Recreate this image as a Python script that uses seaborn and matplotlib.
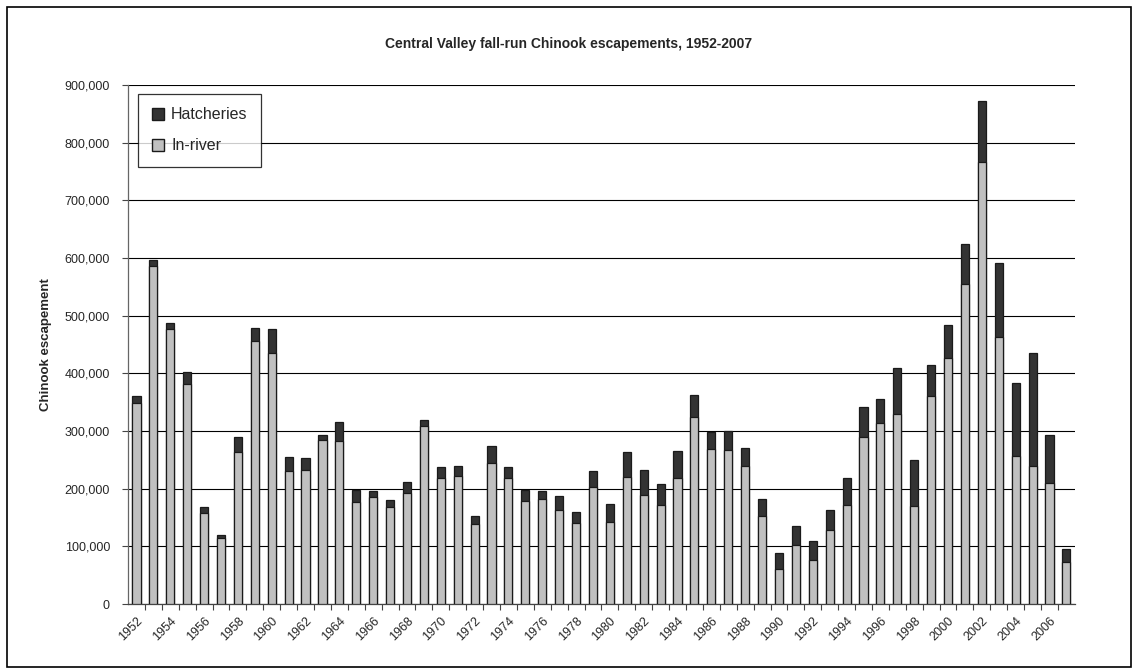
import matplotlib
matplotlib.use("Agg")
import matplotlib.pyplot as plt
import matplotlib.ticker as mticker
import matplotlib.transforms as mtransforms
from matplotlib.patches import Patch, Rectangle
import numpy as np
import pandas as pd
import seaborn as sns

years = list(range(1952, 2008))

# in-river escapement (lower, light grey part of each bar)
in_river = [348000, 586000, 477000, 382000, 158000, 114000, 263000, 456000,
            436000, 231000, 233000, 285000, 283000, 177000, 185000, 169000,
            193000, 309000, 218000, 222000, 139000, 244000, 218000, 179000,
            182000, 164000, 141000, 203000, 143000, 220000, 190000, 172000,
            218000, 324000, 269000, 267000, 239000, 152000, 61000, 103000,
            76000, 129000, 172000, 290000, 314000, 329000, 170000, 360000,
            426000, 555000, 766000, 463000, 256000, 240000, 210000, 73000]

# total escapement (top of each bar); hatcheries = total - in-river
total = [360000, 597000, 488000, 402000, 169000, 119000, 289000, 479000,
         477000, 255000, 253000, 294000, 315000, 198000, 196000, 181000,
         211000, 320000, 237000, 240000, 153000, 274000, 237000, 198000,
         196000, 187000, 159000, 231000, 174000, 263000, 232000, 208000,
         265000, 362000, 299000, 301000, 270000, 183000, 89000, 135000,
         109000, 164000, 219000, 342000, 356000, 409000, 250000, 414000,
         484000, 625000, 872000, 591000, 384000, 435000, 294000, 96000]

df = pd.DataFrame({"year": [str(y) for y in years],
                   "in_river": in_river, "total": total})

sns.set_style("white")
plt.rcParams["font.family"] = ["Liberation Sans", "DejaVu Sans"]

fig = plt.figure(figsize=(11.38, 6.72), dpi=100)
ax = fig.add_axes([0.1125, 0.101, 0.832, 0.7725])

hatch_col = "#333333"
river_col = "#c0c0c0"

# full bar in hatchery colour, in-river drawn over the lower part
sns.barplot(data=df, x="year", y="total", color=hatch_col, saturation=1,
            width=0.48, edgecolor="#1a1a1a", linewidth=0.9, ax=ax, zorder=3)
sns.barplot(data=df, x="year", y="in_river", color=river_col, saturation=1,
            width=0.48, edgecolor="#1a1a1a", linewidth=0.9, ax=ax, zorder=4)

ax.set_xlim(-0.5, len(years) - 0.5)
ax.set_ylim(0, 900000)
ax.yaxis.set_major_locator(mticker.MultipleLocator(100000))
ax.yaxis.set_major_formatter(mticker.FuncFormatter(lambda v, p: f"{int(v):,}"))
ax.grid(axis="y", color="black", linewidth=0.8, zorder=0)
ax.set_axisbelow(True)

# x labels every other year, tick marks between categories
pos = np.arange(len(years))
ax.set_xticks(pos[::2])
ax.set_xticklabels([str(y) for y in years[::2]], rotation=45, ha="right",
                   rotation_mode="anchor", fontsize=9)
shift = mtransforms.ScaledTranslation(-4 / 100, 0, fig.dpi_scale_trans)
for lab in ax.get_xticklabels():
    lab.set_transform(lab.get_transform() + shift)
ax.set_xticks(pos[:-1] + 0.5, minor=True)
ax.tick_params(axis="x", which="major", length=0, pad=8)
ax.tick_params(axis="x", which="minor", length=4, width=0.8, color="#444444",
               direction="out", bottom=True)
ax.tick_params(axis="y", length=4, width=0.8, color="#444444", labelsize=9,
               direction="out", left=True, pad=9)

for s in ["top", "right"]:
    ax.spines[s].set_visible(False)
ax.spines["left"].set_color("#666666")
ax.spines["bottom"].set_color("#444444")
ax.spines["left"].set_linewidth(0.9)
ax.spines["bottom"].set_linewidth(0.9)

ax.set_xlabel("")
ax.set_ylabel("Chinook escapement", fontsize=9.5, fontweight="bold", labelpad=9)
fig.text(0.5, 0.935, "Central Valley fall-run Chinook escapements, 1952-2007",
         ha="center", va="center", fontsize=10, fontweight="bold")

handles = [Patch(facecolor=hatch_col, edgecolor="#1a1a1a", label="Hatcheries"),
           Patch(facecolor=river_col, edgecolor="#1a1a1a", label="In-river")]
leg = ax.legend(handles=handles, loc="upper left", bbox_to_anchor=(0.011, 0.983),
                fontsize=11.5, frameon=True, fancybox=False, handlelength=0.75,
                handleheight=0.75, handletextpad=0.45, labelspacing=1.0,
                borderpad=0.85, borderaxespad=0)
leg.get_frame().set_edgecolor("black")
leg.get_frame().set_linewidth(0.9)
leg.set_zorder(10)

# outer chart border
fig.patches.append(Rectangle((0.006, 0.008), 0.988, 0.982, transform=fig.transFigure,
                             fill=False, edgecolor="black", linewidth=1.2))

fig.savefig("out.png", dpi=100)
